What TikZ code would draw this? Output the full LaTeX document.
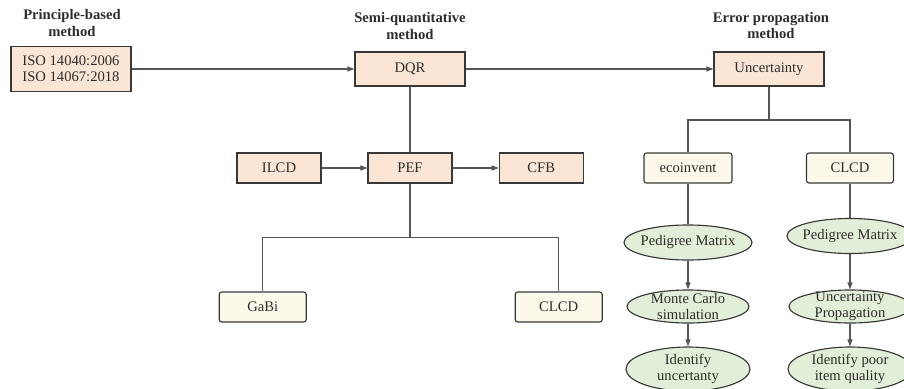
\documentclass[tikz,border=0pt]{standalone}
\usepackage{fontspec}
\setmainfont{Liberation Serif}
\usepackage{xcolor}
\usepackage{tikz}
\usetikzlibrary{shapes.geometric, arrows.meta, positioning, calc}
\definecolor{peachfill}{RGB}{251,230,214}
\definecolor{creamfill}{RGB}{252,249,235}
\definecolor{greenfill}{RGB}{226,239,216}
\definecolor{edgegray}{RGB}{55,55,55}
\definecolor{linegray}{RGB}{85,85,85}
\definecolor{textgray}{RGB}{45,45,45}

\begin{document}
\begin{tikzpicture}[x=0.025cm, y=-0.025cm,
    font=\fontsize{10.4}{11.2}\selectfont, text=textgray,
    heading/.style={font=\fontsize{10.4}{12}\selectfont\bfseries, align=center},
    peachbox/.style={draw=edgegray, fill=peachfill, line width=0.8pt, align=center},
    creambox/.style={draw=edgegray, fill=creamfill, line width=0.8pt, rounded corners=1.8pt},
    greenell/.style={ellipse, draw=edgegray, fill=greenfill, line width=0.8pt, inner sep=0pt,
        label={[align=center, font=\fontsize{10.4}{11.6}\selectfont, text=textgray]center:#1}},
    link/.style={draw=linegray, line width=0.75pt},
    flow/.style={link, -{Triangle[length=5pt,width=3.6pt]}}]

\useasboundingbox (0,0) rectangle (904,389);

% Method headings
\node[heading] (hprinciple) at (72,23) {Principle-based\\method};
\node[heading] (hsemi) at (410,25.8) {Semi-quantitative\\method};
\node[heading] (herror) at (771,25.5) {Error propagation\\method};

% Top row
\node[peachbox, minimum width=3cm, minimum height=1.125cm] (iso) at (71,69) {ISO 14040:2006\\ISO 14067:2018};
\node[peachbox, minimum width=2.75cm, minimum height=0.85cm] (dqr) at (410,69) {DQR};
\node[peachbox, minimum width=2.75cm, minimum height=0.85cm] (unc) at (769,69) {Uncertainty};

% Semi-quantitative branch
\node[peachbox, minimum width=2.1cm, minimum height=0.75cm] (ilcd) at (279,168) {ILCD};
\node[peachbox, minimum width=2.1cm, minimum height=0.75cm] (pef) at (410,168) {PEF};
\node[peachbox, minimum width=2.1cm, minimum height=0.75cm] (cfb) at (541.3,168) {CFB};
\node[creambox, minimum width=2.175cm, minimum height=0.75cm] (gabi) at (262.7,307) {GaBi};
\node[creambox, minimum width=2.175cm, minimum height=0.75cm] (clcdmid) at (558.7,307) {CLCD};
\coordinate (pefjoin) at (410,237.7);

% Error propagation branch
\node[creambox, minimum width=2.2cm, minimum height=0.75cm] (ecoinvent) at (688,168) {ecoinvent};
\node[creambox, minimum width=2.175cm, minimum height=0.75cm] (clcdright) at (850,168) {CLCD};
\coordinate (uncjoin) at (769,120);

\node[greenell={Pedigree Matrix}, minimum width=3.2cm, minimum height=0.875cm] (pmleft) at (688,242.5) {};
\node[greenell={Monte Carlo\\simulation}, minimum width=3.05cm, minimum height=0.825cm] (mcleft) at (688,306.5) {};
\node[greenell={Identify\\uncertanty}, minimum width=3.1cm, minimum height=1.1cm] (idleft) at (688,369) {};
\node[greenell={Pedigree Matrix}, minimum width=3.15cm, minimum height=0.875cm] (pmright) at (850,236) {};
\node[greenell={Uncertainty\\Propagation}, minimum width=3.05cm, minimum height=0.825cm] (upright) at (850,306.5) {};
\node[greenell={Identify poor\\item quality}, minimum width=3.1cm, minimum height=1.1cm] (idright) at (850,369) {};

% Connectors
\draw[flow] (iso) -- (dqr);
\draw[flow] (dqr) -- (unc);
\draw[link] (dqr) -- (pef);
\draw[flow] (ilcd) -- (pef);
\draw[flow] (pef) -- (cfb);
\draw[link] (pef) -- (pefjoin) -| (gabi);
\draw[link] (pefjoin) -| (clcdmid);
\draw[link] (unc) -- (uncjoin) -| (ecoinvent);
\draw[link] (uncjoin) -| (clcdright);
\draw[link] (ecoinvent) -- (pmleft);
\draw[link] (clcdright) -- (pmright);
\draw[flow] (pmleft) -- (mcleft);
\draw[flow] (mcleft) -- (idleft);
\draw[flow] (pmright) -- (upright);
\draw[flow] (upright) -- (idright);

\end{tikzpicture}
\end{document}
